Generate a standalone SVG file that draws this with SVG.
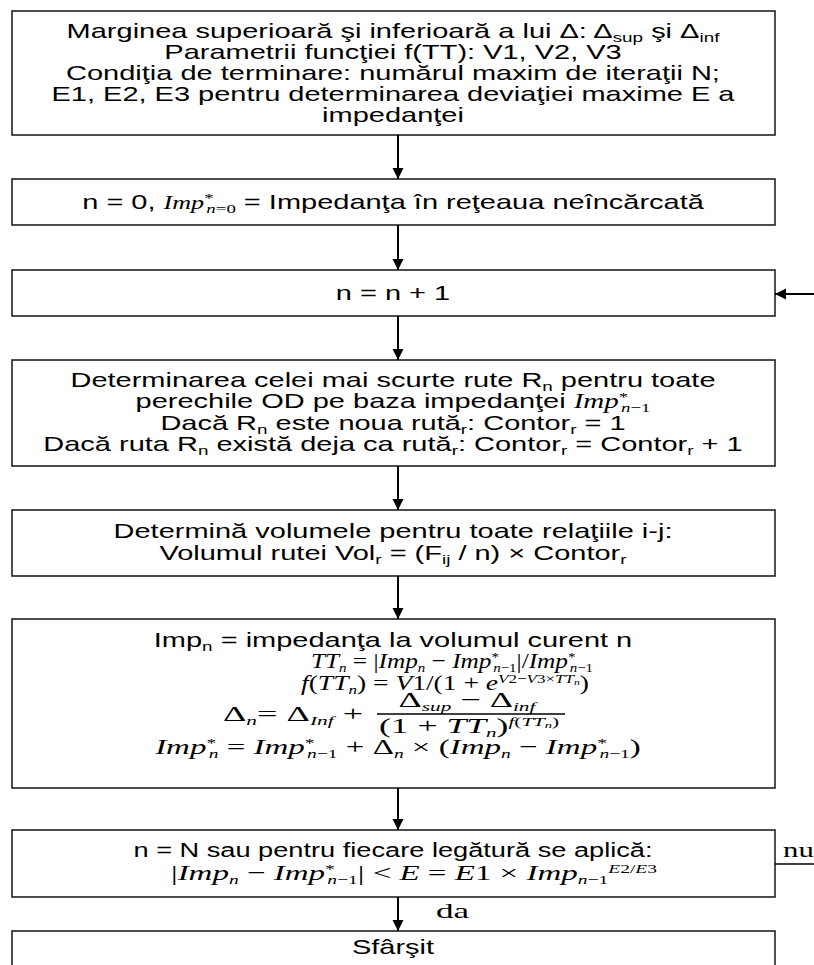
<svg xmlns="http://www.w3.org/2000/svg" width="814" height="965" viewBox="0 0 814 965">
<defs>
<marker id="ah" viewBox="0 0 10 10" refX="10" refY="5" markerWidth="11" markerHeight="12" markerUnits="userSpaceOnUse" orient="auto">
<path d="M0,0 L10,5 L0,10 z" fill="#000"/>
</marker>
<style>
.box{fill:#fff;stroke:#222;stroke-width:1.6}
.t{font-family:"Liberation Sans",Arial,sans-serif;font-size:20px;fill:#000;text-anchor:middle}
.m{font-family:"Liberation Serif","Times New Roman",serif;font-size:22px;fill:#000;text-anchor:middle}
.s{text-anchor:start}
.m21{font-size:21px}
.i{font-style:italic}
.sub{font-size:13px;baseline-shift:-4px}
.sup{font-size:13px;baseline-shift:7px}
.conn{stroke:#000;stroke-width:2;fill:none;marker-end:url(#ah)}
.line{stroke:#000;stroke-width:1.3;fill:none}
</style>
</defs>
<rect width="814" height="965" fill="#fff"/>
<g id="n1">
<rect class="box" x="12" y="11" width="763" height="124"/>
<text class="t" transform="translate(393 0) scale(1.45 1)" x="0" y="38">Marginea superioară şi inferioară a lui Δ: Δ<tspan class="sub">sup</tspan> şi Δ<tspan class="sub">inf</tspan></text>
<text class="t" transform="translate(393 0) scale(1.45 1)" x="0" y="59">Parametrii funcţiei f(TT): V1, V2, V3</text>
<text class="t" transform="translate(393 0) scale(1.45 1)" x="0" y="80">Condiţia de terminare: numărul maxim de iteraţii N;</text>
<text class="t" transform="translate(393 0) scale(1.45 1)" x="0" y="101">E1, E2, E3 pentru determinarea deviaţiei maxime E a</text>
<text class="t" transform="translate(393 0) scale(1.45 1)" x="0" y="122">impedanţei</text>
</g>
<g id="n2">
<rect class="box" x="12" y="179" width="763" height="46"/>
<text class="t" transform="translate(393 0) scale(1.45 1)" x="0" y="209">n = 0, <tspan class="m i" style="font-size:18px">Imp</tspan><tspan class="m sup">*</tspan><tspan class="m i sub" dx="-5">n</tspan><tspan class="m sub">=0</tspan> = Impedanţa în reţeaua neîncărcată</text>
</g>
<g id="n3">
<rect class="box" x="12" y="270" width="763" height="46"/>
<text class="t" transform="translate(393 0) scale(1.45 1)" x="0" y="300">n = n + 1</text>
</g>
<g id="n4">
<rect class="box" x="12" y="360" width="763" height="106"/>
<text class="t" transform="translate(393 0) scale(1.45 1)" x="0" y="387">Determinarea celei mai scurte rute R<tspan class="sub">n</tspan> pentru toate</text>
<text class="t" transform="translate(393 0) scale(1.45 1)" x="0" y="408">perechile OD pe baza impedanţei <tspan class="m i" style="font-size:20px">Imp</tspan><tspan class="m sup">*</tspan><tspan class="m i sub" dx="-5">n</tspan><tspan class="m sub">−1</tspan></text>
<text class="t" transform="translate(393 0) scale(1.45 1)" x="0" y="430">Dacă R<tspan class="sub">n</tspan> este noua rută<tspan class="sub">r</tspan>: Contor<tspan class="sub">r</tspan> = 1</text>
<text class="t" transform="translate(393 0) scale(1.45 1)" x="0" y="451">Dacă ruta R<tspan class="sub">n</tspan> există deja ca rută<tspan class="sub">r</tspan>: Contor<tspan class="sub">r</tspan> = Contor<tspan class="sub">r</tspan> + 1</text>
</g>
<g id="n5">
<rect class="box" x="12" y="510" width="763" height="66"/>
<text class="t" transform="translate(393 0) scale(1.45 1)" x="0" y="538">Determină volumele pentru toate relaţiile i-j:</text>
<text class="t" transform="translate(393 0) scale(1.45 1)" x="0" y="560">Volumul rutei Vol<tspan class="sub">r</tspan> = (F<tspan class="sub">ij</tspan> / n) × Contor<tspan class="sub">r</tspan></text>
</g>
<g id="n6">
<rect class="box" x="12" y="619" width="763" height="169"/>
<text class="t" transform="translate(393 0) scale(1.45 1)" x="0" y="647">Imp<tspan class="sub">n</tspan> = impedanţa la volumul curent n</text>
<text class="m" transform="translate(452 0) scale(1.15 1)" x="0" y="668"><tspan class="i">TT</tspan><tspan class="i sub">n</tspan> = |<tspan class="i">Imp</tspan><tspan class="i sub">n</tspan> − <tspan class="i">Imp</tspan><tspan class="sup">*</tspan><tspan class="i sub" dx="-5">n</tspan><tspan class="sub">−1</tspan>|/<tspan class="i">Imp</tspan><tspan class="sup">*</tspan><tspan class="i sub" dx="-5">n</tspan><tspan class="sub">−1</tspan></text>
<text class="m m21" transform="translate(445 0) scale(1.31 1)" x="0" y="690"><tspan class="i">f</tspan>(<tspan class="i">TT</tspan><tspan class="i sub">n</tspan>) = <tspan class="i">V</tspan>1/(1 + <tspan class="i">e</tspan><tspan class="i sup">V</tspan><tspan class="sup">2−</tspan><tspan class="i sup">V</tspan><tspan class="sup">3×</tspan><tspan class="i sup">TT</tspan><tspan class="i" style="font-size:9px" baseline-shift="5px">n</tspan>)</text>
<text class="m s" transform="translate(223 0) scale(1.65 1)" x="0" y="721">Δ<tspan class="i sub">n</tspan>= Δ<tspan class="i sub">Inf</tspan> +</text>
<text class="m" transform="translate(467 0) scale(1.64 1)" x="0" y="707">Δ<tspan class="i sub">sup</tspan> − Δ<tspan class="i sub">inf</tspan></text>
<line class="line" x1="377" y1="714" x2="565" y2="714"/>
<text class="m" transform="translate(469 0) scale(1.62 1)" x="0" y="733">(1 + <tspan class="i">TT</tspan><tspan class="i sub">n</tspan>)<tspan class="i sup">f</tspan><tspan class="sup">(</tspan><tspan class="i sup">TT</tspan><tspan class="i" style="font-size:9px" baseline-shift="5px">n</tspan><tspan class="sup">)</tspan></text>
<text class="m" transform="translate(398 0) scale(1.5 1)" x="0" y="754"><tspan class="i">Imp</tspan><tspan class="sup">*</tspan><tspan class="i sub" dx="-5">n</tspan> = <tspan class="i">Imp</tspan><tspan class="sup">*</tspan><tspan class="i sub" dx="-5">n</tspan><tspan class="sub">−1</tspan> + Δ<tspan class="i sub">n</tspan> × (<tspan class="i">Imp</tspan><tspan class="i sub">n</tspan> − <tspan class="i">Imp</tspan><tspan class="sup">*</tspan><tspan class="i sub" dx="-5">n</tspan><tspan class="sub">−1</tspan>)</text>
</g>
<g id="n7">
<rect class="box" x="12" y="830" width="763" height="67"/>
<text class="t" transform="translate(393 0) scale(1.36 1)" x="0" y="857">n = N sau pentru fiecare legătură se aplică:</text>
<text class="m" transform="translate(414 0) scale(1.5 1)" x="0" y="880">|<tspan class="i">Imp</tspan><tspan class="i sub">n</tspan> − <tspan class="i">Imp</tspan><tspan class="sup">*</tspan><tspan class="i sub" dx="-5">n</tspan><tspan class="sub">−1</tspan>| &lt; <tspan class="i">E</tspan> = <tspan class="i">E</tspan>1 × <tspan class="i">Imp</tspan><tspan class="i sub">n</tspan><tspan class="sub">−1</tspan><tspan class="i sup" baseline-shift="11px">E</tspan><tspan class="sup" baseline-shift="11px">2/</tspan><tspan class="i sup" baseline-shift="11px">E</tspan><tspan class="sup" baseline-shift="11px">3</tspan></text>
</g>
<g id="n8">
<rect class="box" x="12" y="931" width="763" height="40"/>
<text class="t" transform="translate(393 0) scale(1.45 1)" x="0" y="954">Sfârşit</text>
</g>
<g id="connectors">
<line class="conn" x1="398" y1="135" x2="398" y2="179"/>
<line class="conn" x1="398" y1="225" x2="398" y2="270"/>
<line class="conn" x1="398" y1="316" x2="398" y2="360"/>
<line class="conn" x1="398" y1="466" x2="398" y2="510"/>
<line class="conn" x1="398" y1="576" x2="398" y2="619"/>
<line class="conn" x1="398" y1="788" x2="398" y2="830"/>
<line class="conn" x1="398" y1="897" x2="398" y2="931"/>
<line class="conn" x1="814" y1="294" x2="775" y2="294"/>
<line class="line" x1="775" y1="864" x2="814" y2="864"/>
<text class="m s" transform="translate(436 0) scale(1.6 1)" x="0" y="918">da</text>
<text class="m s" transform="translate(783 0) scale(1.4 1)" x="0" y="857">nu</text>
</g>
</svg>
